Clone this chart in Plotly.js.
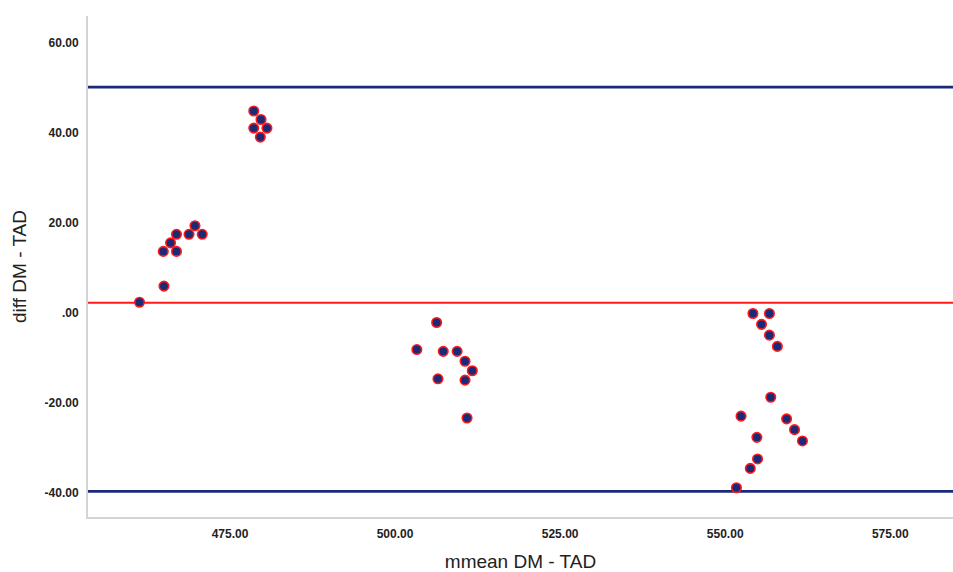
<!DOCTYPE html>
<html>
<head>
<meta charset="utf-8">
<script src="https://cdn.plot.ly/plotly-3.0.1.min.js"></script>
<style>html,body{margin:0;padding:0;background:#fff;}#chart{width:953px;height:572px;}</style>
</head>
<body>
<div id="chart"></div>
<script>
// Bland-Altman data: mean of DM and TAD (x) vs difference DM - TAD (y)
var meanVals = [478.6, 479.7, 478.6, 480.6, 479.6,
  461.3, 465.0, 464.9, 466.0, 466.9, 466.9, 468.8, 469.7, 470.8,
  506.3, 503.3, 507.3, 509.4, 510.6, 511.7, 506.5, 510.6, 510.9,
  554.2, 556.7, 555.5, 556.7, 557.9, 556.9, 552.4, 559.3, 560.5, 561.7, 554.8, 554.9, 553.8, 551.7];
var diffVals = [44.9, 43.0, 41.1, 41.1, 39.1,
  2.4, 6.0, 13.7, 15.6, 17.5, 13.7, 17.5, 19.4, 17.5,
  -2.1, -8.1, -8.5, -8.5, -10.7, -12.8, -14.6, -14.9, -23.3,
  -0.1, -0.1, -2.5, -4.9, -7.4, -18.7, -22.9, -23.5, -25.9, -28.4, -27.6, -32.4, -34.5, -38.8];
var meanDiff = 2.3;
var upperLoA = 50.2;
var lowerLoA = -39.6;
var yTickVals = [60, 40, 20, 0, -20, -40];
var yTickText = ["60.00", "40.00", "20.00", ".00", "-20.00", "-40.00"];
var xTickVals = [475, 500, 525, 550, 575];
var xTickText = ["475.00", "500.00", "525.00", "550.00", "575.00"];

var navy = "#1b2a78";
var traces = [{
  type: "scatter", mode: "markers",
  x: meanVals, y: diffVals,
  marker: {size: 9.5, color: navy, line: {color: "#ff1a1a", width: 1.6}},
  hoverinfo: "x+y", showlegend: false
}];

function hline(y, color, w) {
  return {type: "line", xref: "paper", x0: 0, x1: 1, yref: "y", y0: y, y1: y,
    line: {color: color, width: w}, layer: "below"};
}

var layout = {
  width: 953, height: 572,
  margin: {l: 88, r: 0, t: 16, b: 55},
  paper_bgcolor: "#ffffff", plot_bgcolor: "#ffffff",
  font: {family: "Liberation Sans, Arial, sans-serif", color: "#222"},
  showlegend: false,
  xaxis: {
    range: [453.5, 584.5], showgrid: false, zeroline: false,
    tickvals: xTickVals, ticktext: xTickText, ticks: "",
    tickfont: {size: 12, color: "#222", weight: "bold"},
    showline: true, linecolor: "#d4d4d4", linewidth: 2,
    ticklabelstandoff: 5,
    title: {text: "mmean DM - TAD", font: {size: 19, color: "#222"}, standoff: 17}
  },
  yaxis: {
    range: [-45.3, 66], showgrid: false, zeroline: false,
    tickvals: yTickVals, ticktext: yTickText, ticks: "",
    tickfont: {size: 12, color: "#222", weight: "bold"},
    showline: true, linecolor: "#d4d4d4", linewidth: 2,
    ticklabelstandoff: 5,
    title: {text: "diff DM - TAD", font: {size: 19, color: "#222"}, standoff: 13}
  },
  shapes: [hline(upperLoA, navy, 2.6), hline(lowerLoA, navy, 2.6), hline(meanDiff, "#ff1a1a", 2)]
};

Plotly.newPlot("chart", traces, layout, {displayModeBar: false, staticPlot: true});
</script>
</body>
</html>
